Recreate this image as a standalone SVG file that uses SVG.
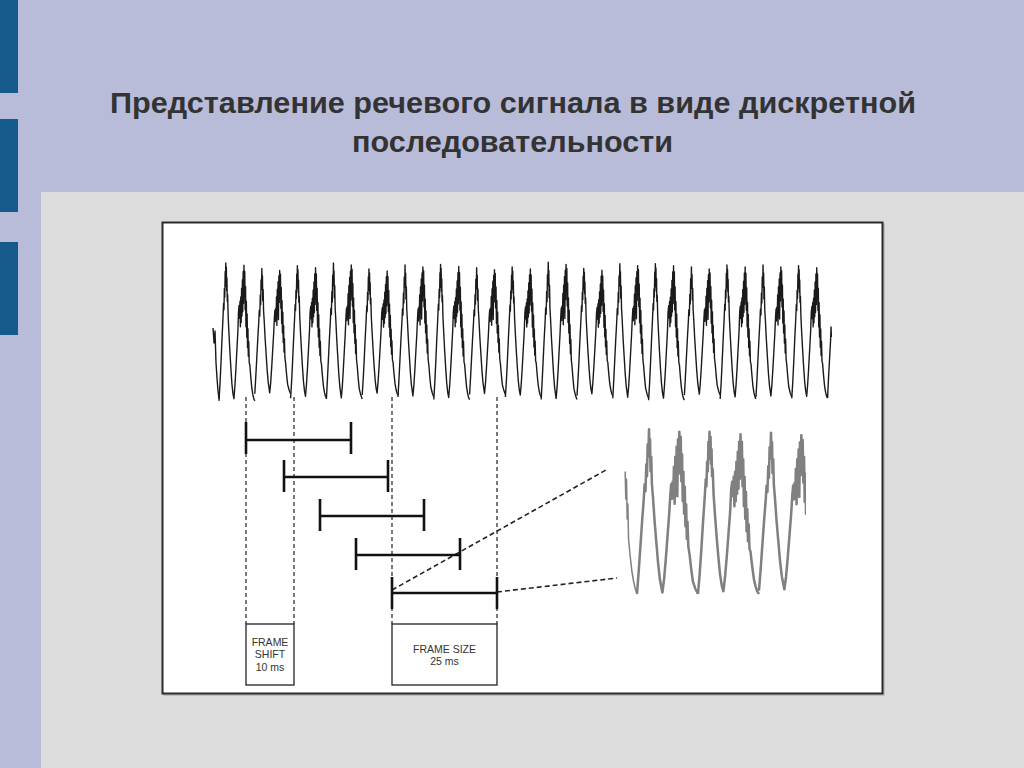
<svg xmlns="http://www.w3.org/2000/svg" xmlns:xlink="http://www.w3.org/1999/xlink" width="1024" height="768" viewBox="0 0 1024 768">
<style>
.title{font-family:"Liberation Sans","DejaVu Sans",sans-serif;font-weight:bold;font-size:29.5px;fill:#333;text-anchor:middle}
.lbl{font-family:"Liberation Sans","DejaVu Sans",sans-serif;font-size:10.5px;fill:#333;text-anchor:middle}
.wave path{vector-effect:non-scaling-stroke}
.mainwave{fill:none;stroke:#1a1a1a;stroke-width:1.4;stroke-linejoin:round}
.zoomwave{fill:none;stroke:#808080;stroke-width:1.5;stroke-linejoin:round}
.dash{stroke:#333;stroke-width:1.3;stroke-dasharray:4 3;fill:none}
.diag{stroke:#222;stroke-width:1.6;stroke-dasharray:5 3;fill:none}
.seg{stroke:#111;stroke-width:2.6;fill:none}
.box{fill:#fff;stroke:#222;stroke-width:1.3}
</style>
<defs>
<path id="p1" d="M0,64 L1,48 L2,28 L3,6 L4,-14 L4.6,-28 L5,-22 L5.4,-42 L5.8,-34 L6.2,-58 L6.5,-44 L6.8,-66 L7.1,-48 L7.4,-62 L7.7,-40 L8,-52 L8.3,-30 L8.7,-36 L9.2,-16 L10,0 L11,18 L12,34 L13,48 L14,57 L15,62 L16,50 L17,34 L18,16 L19,-2 L19.6,-20 L20.2,-26 L20.7,-14 L21.1,-30 L21.5,-6 L21.9,-34 L22.3,-10 L22.7,-42 L23.1,-16 L23.5,-50 L23.9,-20 L24.3,-58 L24.7,-28 L25.1,-64 L25.5,-36 L25.9,-58 L26.3,-22 L26.7,-44 L27.1,-6 L27.5,-30 L27.9,4 L28.3,-18 L28.7,14 L29.1,-4 L29.5,22 L29.9,8 L30.4,28 L31,30 L32,42 L33,52 L34,58 L35,62 L36,64"/>
<path id="p2" d="M0,64 L1,46 L2,26 L3,6 L4,-12 L4.5,-24 L5,-18 L5.5,-40 L5.9,-30 L6.3,-56 L6.7,-46 L7.1,-68 L7.4,-50 L7.7,-60 L8,-34 L8.4,-46 L8.8,-24 L9.4,-14 L10.4,6 L11.5,24 L12.5,40 L13.5,52 L15,63 L16,52 L17,36 L18,18 L19,0 L19.7,-16 L20.2,-24 L20.6,-12 L21,-26 L21.4,-16 L21.8,-38 L22.2,-8 L22.6,-46 L23,-20 L23.4,-54 L23.8,-14 L24.2,-60 L24.6,-32 L25,-66 L25.4,-40 L25.8,-62 L26.2,-26 L26.6,-48 L27,-10 L27.4,-34 L27.8,0 L28.2,-22 L28.6,10 L29,-8 L29.4,20 L29.8,6 L30.3,26 L31,32 L32,44 L33,54 L34.5,60 L36,64"/>
<clipPath id="zc" clipPathUnits="userSpaceOnUse"><rect x="620" y="420" width="186" height="190"/></clipPath>
</defs>

<rect x="0" y="0" width="1024" height="768" fill="#b9bcd9"/>
<rect x="0" y="0" width="18" height="93" fill="#145a8a"/>
<rect x="0" y="119" width="18" height="93" fill="#145a8a"/>
<rect x="0" y="242" width="18" height="93" fill="#145a8a"/>
<rect x="41" y="192" width="983" height="576" fill="#dcdcdc"/>

<g id="title">
<text class="title" x="513" y="113" textLength="806" lengthAdjust="spacingAndGlyphs">Представление речевого сигнала в виде дискретной</text>
<text class="title" x="512.5" y="152" textLength="321" lengthAdjust="spacingAndGlyphs">последовательности</text>
</g>

<g id="figure">
<rect x="164" y="224" width="720" height="471" fill="none" stroke="#a0a0a0" stroke-width="1"/>
<rect x="162.5" y="222.5" width="720" height="471" fill="#fff" stroke="#2a2a2a" stroke-width="2"/>
</g>

<g id="signal" class="wave">
<g class="mainwave" transform="translate(219,333) scale(0.9944,1)">
<path d="M-6,-5 L-5,10 L-4,-2 L-3,30 L-2,45 L-1,58 L0,66"/>
<use xlink:href="#p1" transform="translate(0,0) scale(1,1.06)"/>
<use xlink:href="#p2" transform="translate(36,0) scale(1,0.95)"/>
<use xlink:href="#p1" transform="translate(72,0) scale(1,1.02)"/>
<use xlink:href="#p2" transform="translate(108,0) scale(1,1.03)"/>
<use xlink:href="#p1" transform="translate(144,0) scale(1,0.97)"/>
<use xlink:href="#p2" transform="translate(180,0) scale(1,1.0)"/>
<use xlink:href="#p1" transform="translate(216,0) scale(1,1.04)"/>
<use xlink:href="#p2" transform="translate(252,0) scale(1,0.96)"/>
<use xlink:href="#p1" transform="translate(288,0) scale(1,1.0)"/>
<use xlink:href="#p2" transform="translate(324,0) scale(1,1.04)"/>
<use xlink:href="#p1" transform="translate(360,0) scale(1,0.98)"/>
<use xlink:href="#p2" transform="translate(396,0) scale(1,1.02)"/>
<use xlink:href="#p1" transform="translate(432,0) scale(1,1.05)"/>
<use xlink:href="#p2" transform="translate(468,0) scale(1,0.97)"/>
<use xlink:href="#p1" transform="translate(504,0) scale(1,1.03)"/>
<use xlink:href="#p2" transform="translate(540,0) scale(1,1.0)"/>
<use xlink:href="#p1" transform="translate(576,0) scale(1,1.02)"/>
<path d="M612,65 L613,44 L614,26 L615,8 L615.5,-6 L615.8,4"/>
</g>
</g>

<g id="zoomed" class="wave" clip-path="url(#zc)">
<g class="zoomwave" transform="translate(637,514) scale(1.694,1.25)">
<path d="M-7,-34 L-6.6,-12 L-6.2,-28 L-5.8,4 L-5.4,-8 L-5,20 L-4,34 L-3,46 L-2,54 L-1,60 L0,64"/>
<use xlink:href="#p2"/>
<use xlink:href="#p1" transform="translate(36,0)"/>
<use xlink:href="#p2" transform="translate(72,0) scale(1,0.96)"/>
</g>
</g>

<g id="connectors">
<line class="dash" x1="246" y1="397" x2="246" y2="624"/>
<line class="dash" x1="294" y1="397" x2="294" y2="624"/>
<line class="dash" x1="392" y1="397" x2="392" y2="624"/>
<line class="dash" x1="497" y1="397" x2="497" y2="624"/>
<line class="diag" x1="392" y1="590" x2="606" y2="470"/>
<line class="diag" x1="497" y1="592" x2="617" y2="578"/>
</g>

<g id="frames">
<g id="frame1" class="seg"><path d="M246,440 H351 M246,422 V454 M351,422 V454"/></g>
<g id="frame2" class="seg"><path d="M284,477 H388 M284,460 V492 M388,460 V492"/></g>
<g id="frame3" class="seg"><path d="M320,516 H424 M320,499 V531 M424,499 V531"/></g>
<g id="frame4" class="seg"><path d="M356,555 H460 M356,538 V570 M460,538 V570"/></g>
<g id="frame5" class="seg"><path d="M392,593 H497 M392,577 V609 M497,577 V609"/></g>
</g>

<g id="frameShift">
<rect class="box" x="246" y="624" width="48" height="61"/>
<text class="lbl" x="270" y="646">FRAME</text>
<text class="lbl" x="270" y="658">SHIFT</text>
<text class="lbl" x="270" y="671">10 ms</text>
</g>
<g id="frameSize">
<rect class="box" x="392" y="624" width="105" height="61"/>
<text class="lbl" x="444.5" y="653">FRAME SIZE</text>
<text class="lbl" x="444.5" y="665">25 ms</text>
</g>
</svg>
